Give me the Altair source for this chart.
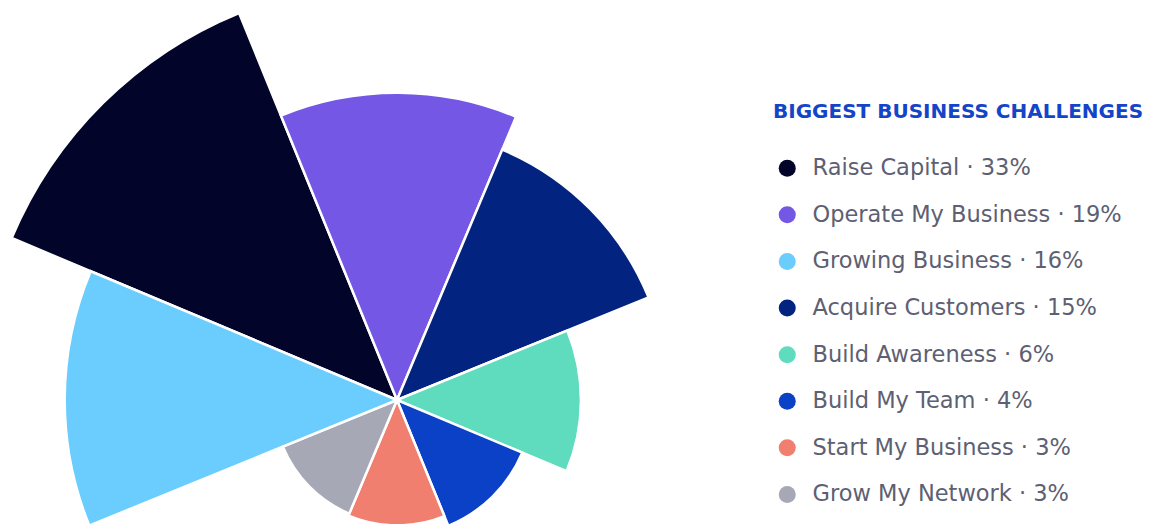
import math
import altair as alt
import pandas as pd

# Slices in drawing order (clockwise from the upper-left)
categories = ["Raise Capital", "Operate My Business", "Acquire Customers", "Build Awareness",
              "Build My Team", "Start My Business", "Grow My Network", "Growing Business"]
shares = [33, 19, 15, 6, 4, 3, 3, 16]
# relative radial length of each petal (largest = 100)
magnitude = [100, 73.5, 65, 44, 32.5, 30, 29.5, 79.5]

# legend order
legend_order = ["Raise Capital", "Operate My Business", "Growing Business", "Acquire Customers",
                "Build Awareness", "Build My Team", "Start My Business", "Grow My Network"]
legend_colors = ["#020529", "#7457e5", "#6acdfd", "#022480",
                 "#5fdbbd", "#0b41c7", "#f17f6f", "#a6a9b5"]

share_of = dict(zip(categories, shares))
labels = [f"{c} · {share_of[c]}%" for c in categories]
legend_labels = [f"{c} · {share_of[c]}%" for c in legend_order]

df = pd.DataFrame({
    "label": labels,
    "m": magnitude,
    "w": [1] * len(categories),
    "i": list(range(len(categories))),
})

a0 = math.radians(292.8)

chart = alt.Chart(df).transform_stack(
    stack="w", groupby=[], as_=["t0", "t1"], sort=[alt.SortField("i", order="ascending")]
).mark_arc(stroke="white", strokeWidth=2.5).encode(
    theta=alt.Theta("t0:Q",
                    scale=alt.Scale(domain=[0, len(categories)], range=[a0, a0 + 2 * math.pi])),
    theta2="t1:Q",
    radius=alt.Radius("m:Q", scale=alt.Scale(type="linear", domain=[0, 100], range=[0, 418], zero=True)),
    color=alt.Color("label:N",
                    scale=alt.Scale(domain=legend_labels, range=legend_colors),
                    sort=legend_labels,
                    legend=alt.Legend(
                        title="BIGGEST BUSINESS CHALLENGES",
                        orient="none", legendX=765, legendY=94,
                        direction="vertical",
                        titleFont="DejaVu Sans", titleFontSize=20, titleFontWeight="bold",
                        titleColor="#1444c8", titleLimit=600, titlePadding=35,
                        labelFont="DejaVu Sans", labelFontSize=22.5, labelColor="#5d6072",
                        labelLimit=600, labelOffset=14,
                        symbolType="circle", symbolSize=290, symbolStrokeWidth=0,
                        symbolOpacity=1, symbolOffset=3,
                        rowPadding=23.6, padding=0,
                    )),
    x=alt.value(389),
    y=alt.value(392),
).properties(
    width=1149, height=516,
    autosize=alt.AutoSizeParams(type="none"),
    padding=0,
).configure_view(stroke=None)

chart.save("out.html", embed_options={"renderer": "svg", "actions": False})
